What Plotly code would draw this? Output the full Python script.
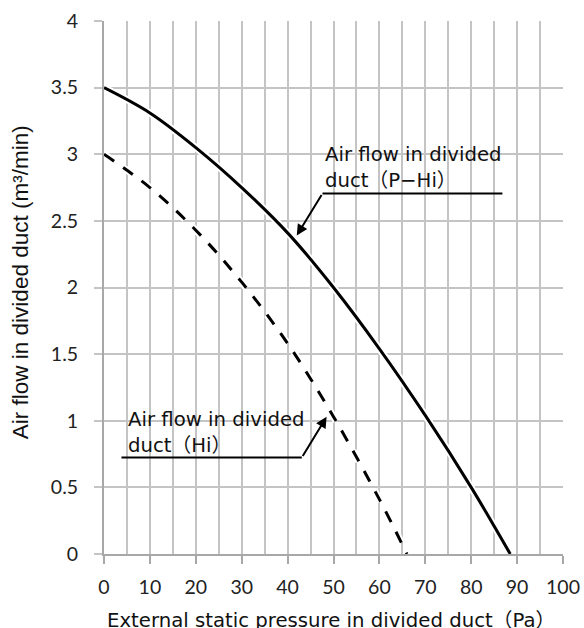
import plotly.graph_objects as go

# data
pressure_phi = [0, 10, 20, 30, 40, 50, 60, 70, 80, 88.5]
airflow_phi = [3.5, 3.31, 3.05, 2.75, 2.41, 2.0, 1.54, 1.04, 0.5, 0]
pressure_hi = [0, 10, 20, 30, 40, 50, 60, 66]
airflow_hi = [3.0, 2.75, 2.43, 2.04, 1.58, 1.03, 0.41, 0]

x_ticks = [0, 10, 20, 30, 40, 50, 60, 70, 80, 90, 100]
y_ticks = [0, 0.5, 1, 1.5, 2, 2.5, 3, 3.5, 4]
y_tick_labels = ['0', '0.5', '1', '1.5', '2', '2.5', '3', '3.5', '4']

label_phi = 'Air flow in divided<br>duct（P−Hi）'
label_hi = 'Air flow in divided<br>duct（Hi）'
x_title = 'External static pressure in divided duct（Pa）'
y_title = 'Air flow in divided duct (m³/min)'

JP_FONT = 'DejaVu Sans, Noto Sans CJK JP'
TICK_FONT = 'Lato'
GRID = '#c4c4c4'
AXIS = '#a8a8a8'

fig = go.Figure()
# white halo under each curve, then the black line
fig.add_trace(go.Scatter(x=pressure_hi, y=airflow_hi, mode='lines', line_shape='spline',
                         line=dict(color='white', width=7, dash='12px,11px'),
                         hoverinfo='skip', showlegend=False, cliponaxis=False))
fig.add_trace(go.Scatter(x=pressure_hi, y=airflow_hi, mode='lines', line_shape='spline',
                         line=dict(color='black', width=3, dash='12px,11px'),
                         name='Hi', showlegend=False, cliponaxis=False))
fig.add_trace(go.Scatter(x=pressure_phi, y=airflow_phi, mode='lines', line_shape='spline',
                         line=dict(color='white', width=7),
                         hoverinfo='skip', showlegend=False, cliponaxis=False))
fig.add_trace(go.Scatter(x=pressure_phi, y=airflow_phi, mode='lines', line_shape='spline',
                         line=dict(color='black', width=3),
                         name='P-Hi', showlegend=False, cliponaxis=False))

# callouts: horizontal leader + arrow to the curve
fig.add_shape(type='line', x0=47.6, x1=86.8, y0=2.706, y1=2.706,
              line=dict(color='black', width=2))
fig.add_annotation(x=42.0, y=2.39, ax=47.6, ay=2.706, axref='x', ayref='y',
                   text='', showarrow=True, arrowhead=2, arrowsize=1.1,
                   arrowwidth=2, arrowcolor='black')
fig.add_annotation(x=47.7, y=2.9, text=label_phi, showarrow=False,
                   xanchor='left', yanchor='middle', align='left',
                   font=dict(family=JP_FONT, size=19.7, color='#111'))

fig.add_shape(type='line', x0=3.8, x1=43.1, y0=0.724, y1=0.724,
              line=dict(color='black', width=2))
fig.add_annotation(x=48.5, y=1.03, ax=43.1, ay=0.724, axref='x', ayref='y',
                   text='', showarrow=True, arrowhead=2, arrowsize=1.1,
                   arrowwidth=2, arrowcolor='black')
fig.add_annotation(x=4.8, y=0.91, text=label_hi, showarrow=False,
                   xanchor='left', yanchor='middle', align='left',
                   font=dict(family=JP_FONT, size=19.7, color='#111'))

# axis titles
fig.add_annotation(x=0.494, y=-0.124, xref='paper', yref='paper', text=x_title,
                   showarrow=False, xanchor='center', yanchor='middle',
                   font=dict(family=JP_FONT, size=19.7, color='#111'))
fig.add_annotation(x=-0.183, y=0.51, xref='paper', yref='paper', text=y_title,
                   showarrow=False, textangle=-90, xanchor='center', yanchor='middle',
                   font=dict(family='Liberation Sans', size=22.5, color='#111'))

fig.update_xaxes(range=[0, 100], tickmode='array', tickvals=x_ticks,
                 ticks='outside', ticklen=8, tickwidth=2, tickcolor=AXIS,
                 ticklabelstandoff=7, automargin=False,
                 showgrid=True, gridcolor=GRID, gridwidth=2,
                 minor=dict(dtick=5, showgrid=True, gridcolor=GRID, gridwidth=2),
                 showline=True, linecolor=AXIS, linewidth=2,
                 zeroline=False, tickfont=dict(family=TICK_FONT, size=19.5, color='#222'))
fig.update_yaxes(range=[0, 4], tickmode='array', tickvals=y_ticks, ticktext=y_tick_labels,
                 ticks='outside', ticklen=8, tickwidth=2, tickcolor=GRID,
                 ticklabelstandoff=12, automargin=False,
                 showgrid=True, gridcolor=GRID, gridwidth=2,
                 showline=True, linecolor=AXIS, linewidth=2,
                 zeroline=False, tickfont=dict(family=TICK_FONT, size=19.5, color='#222'))

fig.update_layout(width=584, height=628, autosize=False,
                  margin=dict(l=104, r=21, t=21, b=74),
                  plot_bgcolor='white', paper_bgcolor='white',
                  showlegend=False)

# drop the default page margin so the figure sits at the window's top-left corner
fig.write_html('out.html', config={'displayModeBar': False},
               post_script="document.body.style.margin='0';document.body.style.overflow='hidden';")
